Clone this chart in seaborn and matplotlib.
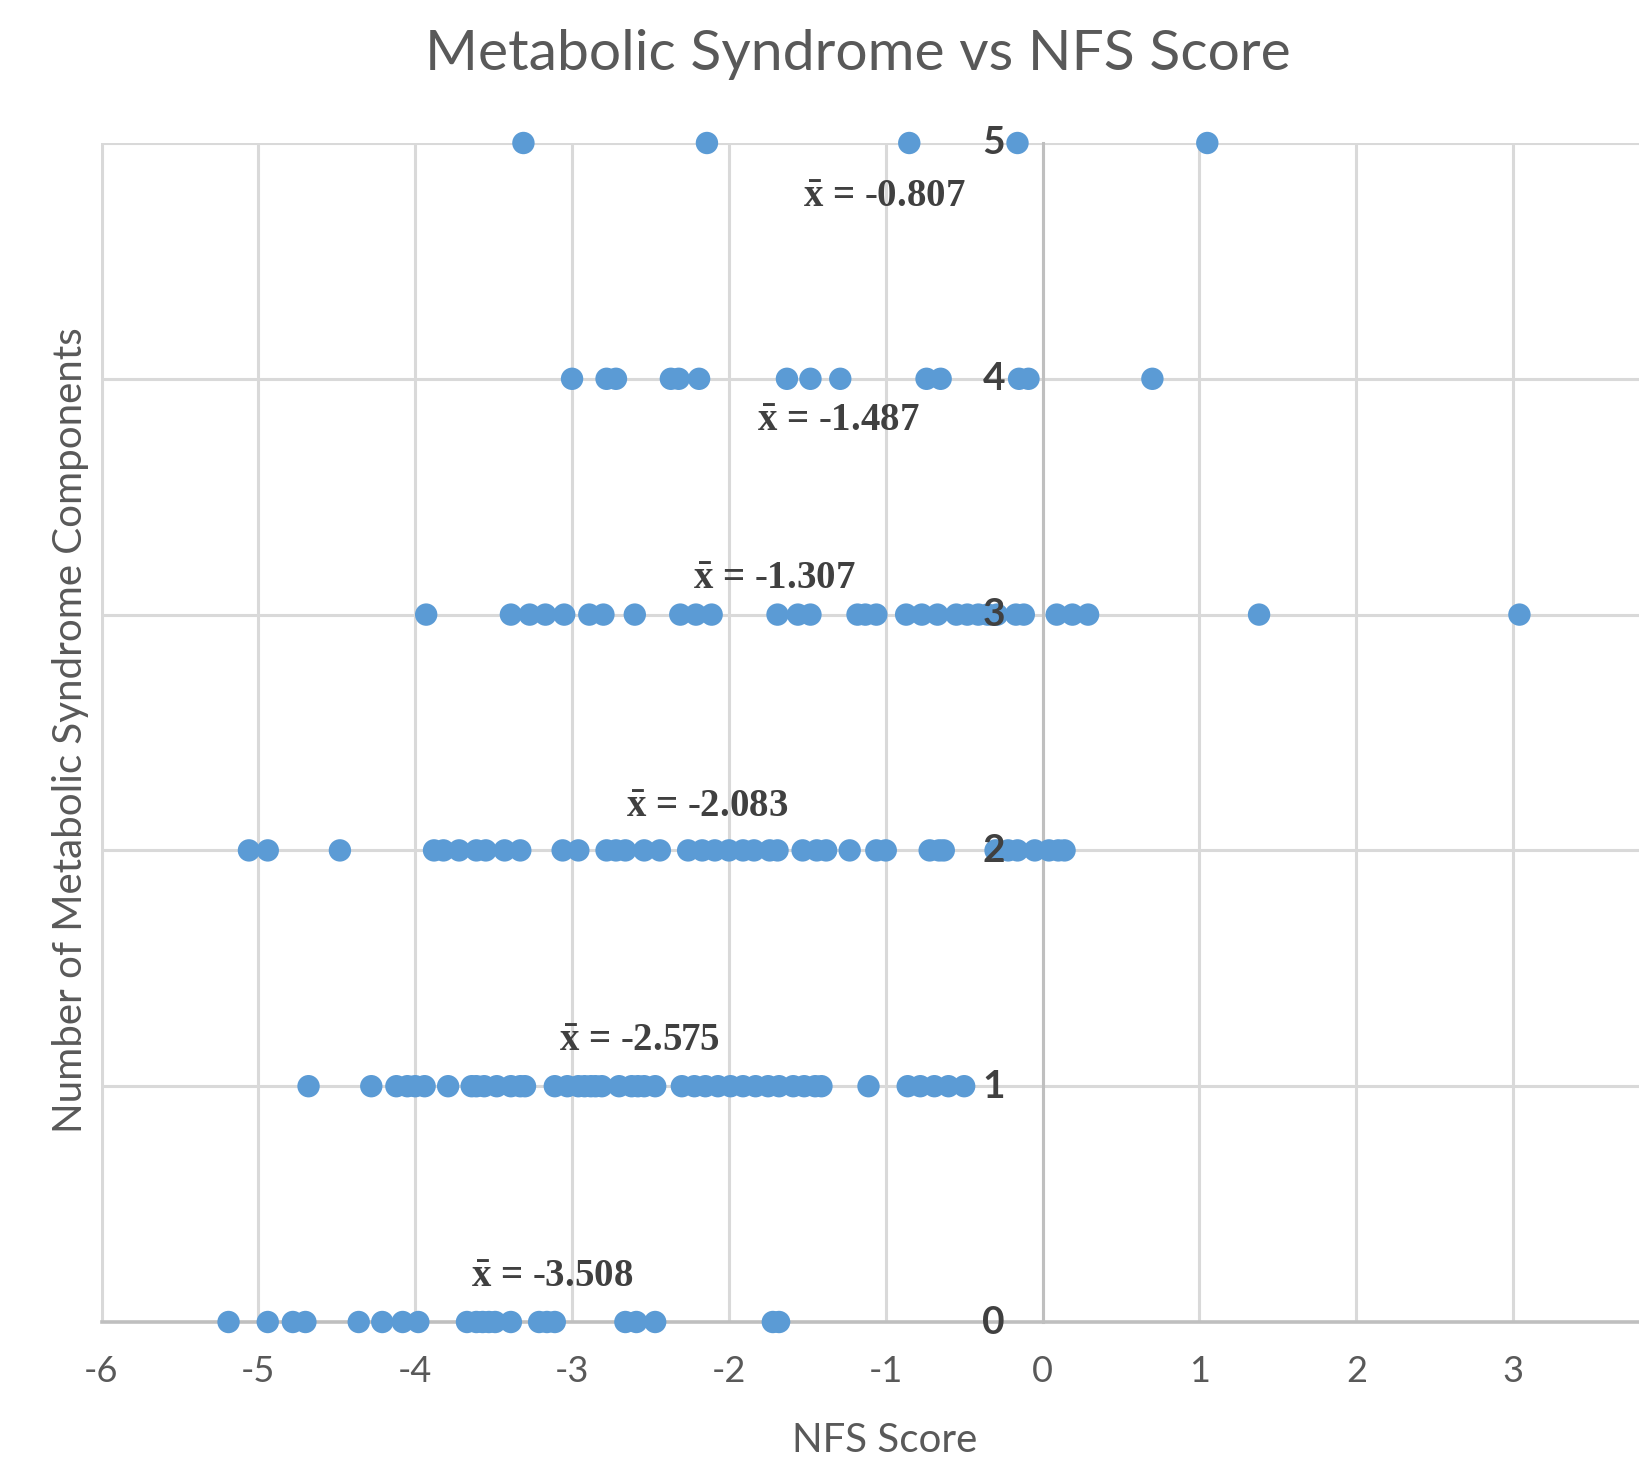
import matplotlib
matplotlib.use("Agg")
import matplotlib.pyplot as plt
import seaborn as sns
import pandas as pd

# NFS scores, one list per number of components
nfs_0 = [-5.19, -4.94, -4.78, -4.70, -4.36, -4.21, -4.08, -3.98, -3.67, -3.61, -3.57,
         -3.53, -3.49, -3.39, -3.21, -3.16, -3.11, -2.66, -2.59, -2.47, -1.72, -1.68]
nfs_1 = [-4.68, -4.28, -4.12, -4.05, -4.00, -3.94, -3.79, -3.64, -3.61, -3.56, -3.48,
         -3.39, -3.33, -3.30, -3.11, -3.03, -2.96, -2.92, -2.88, -2.85, -2.81, -2.70,
         -2.62, -2.58, -2.54, -2.47, -2.30, -2.22, -2.15, -2.07, -1.99, -1.91, -1.83,
         -1.75, -1.68, -1.59, -1.52, -1.45, -1.41, -1.11, -0.86, -0.78, -0.69, -0.60, -0.50]
nfs_2 = [-5.06, -4.94, -4.48, -3.88, -3.82, -3.72, -3.61, -3.55, -3.43, -3.33, -3.06,
         -2.96, -2.78, -2.72, -2.66, -2.54, -2.44, -2.26, -2.17, -2.09, -2.00, -1.91,
         -1.84, -1.74, -1.69, -1.53, -1.44, -1.38, -1.23, -1.06, -1.00, -0.72, -0.66,
         -0.63, -0.30, -0.22, -0.16, -0.05, 0.04, 0.10, 0.14]
nfs_3 = [-3.93, -3.39, -3.27, -3.17, -3.05, -2.89, -2.80, -2.60, -2.31, -2.21, -2.11,
         -1.69, -1.56, -1.48, -1.18, -1.13, -1.06, -0.87, -0.77, -0.67, -0.55, -0.48,
         -0.41, -0.35, -0.29, -0.17, -0.12, 0.09, 0.19, 0.29, 1.38, 3.04]
nfs_4 = [-3.00, -2.78, -2.72, -2.37, -2.32, -2.19, -1.63, -1.48, -1.29, -0.74, -0.65,
         -0.15, -0.09, 0.70]
nfs_5 = [-3.31, -2.14, -0.85, -0.16, 1.05]

means = ["-3.508", "-2.575", "-2.083", "-1.307", "-1.487", "-0.807"]
# where the mean labels sit (data coords)
mean_x = [-3.13, -2.57, -2.14, -1.71, -1.30, -1.01]
mean_y = [0.19, 1.19, 2.18, 3.15, 3.82, 4.77]

groups = [nfs_0, nfs_1, nfs_2, nfs_3, nfs_4, nfs_5]
df = pd.DataFrame({
    "nfs": [v for g in groups for v in g],
    "components": [i for i, g in enumerate(groups) for _ in g],
})

sns.set_style("white")
plt.rcParams["font.family"] = ["Lato", "DejaVu Sans"]
plt.rcParams["axes.unicode_minus"] = False
plt.rcParams["mathtext.fontset"] = "custom"
plt.rcParams["mathtext.rm"] = "Liberation Serif:bold"
plt.rcParams["mathtext.it"] = "Liberation Serif:bold"
plt.rcParams["mathtext.bf"] = "Liberation Serif:bold"

fig = plt.figure(figsize=(16.4, 14.6), dpi=100)
ax = fig.add_axes([101.5 / 1640, 1 - 1322 / 1460, (1670 - 101.5) / 1640, (1322 - 143) / 1460])
ax.set_facecolor("white")

sns.scatterplot(data=df, x="nfs", y="components", ax=ax, s=260, color="#5b9bd5",
                edgecolor="none", linewidth=0, zorder=3, clip_on=False)

ax.set_xlim(-6, 4)
ax.set_ylim(0, 5)
ax.set_xticks(range(-6, 4))
ax.set_yticks(range(0, 6))
ax.grid(True, color="#d9d9d9", linewidth=2.2, zorder=0)
ax.set_axisbelow(True)

for s in ["top", "right"]:
    ax.spines[s].set_visible(False)
ax.spines["left"].set_position(("data", 0))
ax.spines["left"].set_color("#bfbfbf")
ax.spines["left"].set_linewidth(2.2)
ax.spines["bottom"].set_color("#bfbfbf")
ax.spines["bottom"].set_linewidth(2.6)

ax.tick_params(axis="x", length=0, pad=24, labelsize=26, labelcolor="#595959")
ax.tick_params(axis="y", length=0, labelleft=False)
ax.set_xlabel("")
ax.set_ylabel("")

# y tick labels drawn as text so they sit on top of the dots
for i in range(0, 6):
    ax.annotate(str(i), (0, i), xytext=(-27, 0), textcoords="offset points",
                ha="right", va="center", fontsize=28, fontweight="bold",
                color="#404040", zorder=5)

for mx, my, m in zip(mean_x, mean_y, means):
    ax.text(mx, my, r"$\mathrm{\bar{x}}$ = " + m, ha="center", va="center", fontsize=28,
            fontweight="bold", color="#404040", family=["Liberation Serif", "DejaVu Serif"],
            zorder=4)

fig.text(858 / 1640, 1 - 54 / 1460, "Metabolic Syndrome vs NFS Score", ha="center",
         va="center", fontsize=41, color="#595959")
fig.text(885 / 1640, 1 - 1441 / 1460, "NFS Score", ha="center", va="center",
         fontsize=29, color="#595959")
fig.text(71 / 1640, 1 - 730 / 1460, "Number of Metabolic Syndrome Components",
         ha="center", va="center", rotation=90, fontsize=29, color="#595959")

fig.savefig("out.png", dpi=100, facecolor="white")
